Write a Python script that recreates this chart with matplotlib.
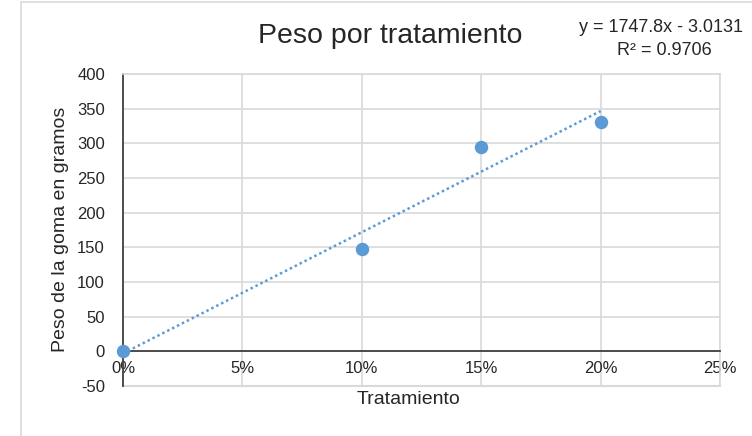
import numpy as np
import matplotlib.pyplot as plt
from matplotlib.patches import Rectangle
from matplotlib.ticker import PercentFormatter

plt.rcParams['font.family'] = ['Liberation Sans', 'DejaVu Sans']
plt.rcParams['axes.unicode_minus'] = False

# tratamiento (fraction) vs peso de la goma (g)
tratamiento = [0.0, 0.10, 0.15, 0.20]
peso = [0, 148, 295, 331]

# linear trendline coefficients
pendiente = 1747.8
intercepto = -3.0131
r2 = 0.9706

azul = '#5B9BD5'
gris = '#D9D9D9'
texto = '#262626'

fig = plt.figure(figsize=(7.52, 4.36), dpi=100)
ax = fig.add_axes([0.1636, 0.1147, 0.7939, 0.7156])

# chart area border
fig.add_artist(Rectangle((0.028, -0.1), 1.2, 1.0954, transform=fig.transFigure,
                         fill=False, ec=gris, lw=1.2))

X = np.array([0.0, max(tratamiento)])
ax.plot(X, pendiente * X + intercepto, color=azul, ls=(0, (1, 1.2)), lw=1.8, zorder=3)
ax.scatter(tratamiento, peso, s=75, color=azul, zorder=4, clip_on=False)

ax.set_xlim(0, 0.25)
ax.set_ylim(-50, 400)
ax.set_xticks(np.arange(0, 0.26, 0.05))
ax.set_yticks(np.arange(-50, 401, 50))
ax.xaxis.set_major_formatter(PercentFormatter(1.0, decimals=0))
ax.grid(True, color=gris, lw=1.2)
ax.set_axisbelow(True)

ax.spines['bottom'].set_position(('data', 0))
for s in ['left', 'bottom']:
    ax.spines[s].set_color('#404040')
    ax.spines[s].set_linewidth(1.3)
for s in ['top', 'right']:
    ax.spines[s].set_color(gris)
    ax.spines[s].set_linewidth(1.2)
ax.axhline(-50, color=gris, lw=1.5, clip_on=False, zorder=1)

ax.tick_params(axis='x', length=0, pad=7, labelsize=12)
ax.tick_params(axis='y', length=0, pad=13, labelsize=12)
for lab in ax.get_xticklabels() + ax.get_yticklabels():
    lab.set_color(texto)

fig.text(0.081, 0.475, 'Peso de la goma en gramos', rotation=90, ha='center', va='center',
         fontsize=14, color=texto)
fig.text(0.543, 0.083, 'Tratamiento', ha='center', va='center', fontsize=14, color=texto)

fig.text(0.519, 0.918, 'Peso por tratamiento', ha='center', va='center',
         fontsize=20.5, color=texto)
fig.text(0.879, 0.938, 'y = 1747.8x - 3.0131', ha='center', va='center',
         fontsize=13, color=texto)
fig.text(0.883, 0.885, 'R² = 0.9706', ha='center', va='center',
         fontsize=13, color=texto)

fig.savefig('out.png', dpi=100)
